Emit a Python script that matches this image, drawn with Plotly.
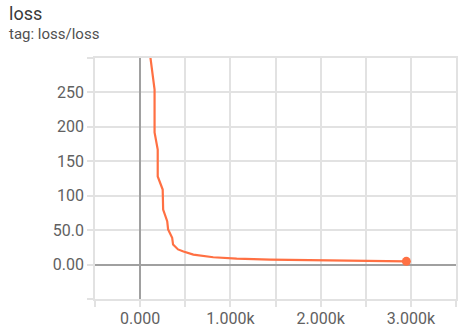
import plotly.graph_objects as go

# Data (step, loss)
steps = [95, 160, 160, 195, 195, 250, 255, 300, 310, 355, 365, 420, 480, 590, 810, 1070, 1440, 1660, 2280, 2950]
loss = [320, 254, 192, 167, 128, 109, 80, 63, 51, 39, 29, 22, 19, 14.5, 10.6, 8.7, 7.2, 6.8, 5.8, 4.7]

x_tickvals = [-500, 0, 500, 1000, 1500, 2000, 2500, 3000, 3500]
x_ticktext = ["", "0.000", "", "1.000k", "", "2.000k", "", "3.000k", ""]
y_tickvals = [-50, 0, 50, 100, 150, 200, 250, 300]
y_ticktext = ["", "0.00", "50.0", "100", "150", "200", "250", ""]

line_color = "#ff7043"
grid_color = "#e2e2e2"
zero_color = "#a0a0a0"
tick_font = dict(family="Roboto, sans-serif", size=16, color="#616161")

W, H = 458, 326
ML, MR, MT, MB = 95, 2, 58, 27
PW, PH = W - ML - MR, H - MT - MB

fig = go.Figure()
fig.add_trace(go.Scatter(x=steps, y=loss, mode="lines",
                         line=dict(color=line_color, width=2.2),
                         hoverinfo="skip", showlegend=False))
fig.add_trace(go.Scatter(x=[steps[-1]], y=[loss[-1]], mode="markers",
                         marker=dict(color=line_color, size=9),
                         hoverinfo="skip", showlegend=False))

fig.update_layout(
    width=W, height=H,
    margin=dict(l=ML, r=MR, t=MT, b=MB),
    paper_bgcolor="white", plot_bgcolor="white",
    font=dict(family="Roboto, sans-serif"),
    annotations=[
        dict(text="loss", xref="paper", yref="paper", x=-(ML - 7) / PW, y=1 + (MT - 1) / PH,
             xanchor="left", yanchor="top", showarrow=False,
             font=dict(family="Roboto, sans-serif", size=18, color="#3a3a3a")),
        dict(text="tag: loss/loss", xref="paper", yref="paper", x=-(ML - 7) / PW, y=1 + (MT - 23) / PH,
             xanchor="left", yanchor="top", showarrow=False,
             font=dict(family="Roboto, sans-serif", size=15, color="#505050")),
    ],
)
axis_common = dict(showgrid=True, gridcolor=grid_color, gridwidth=1.5,
                   zeroline=True, zerolinecolor=zero_color, zerolinewidth=2,
                   ticks="outside", ticklen=6, tickcolor=grid_color, tickwidth=1.5,
                   tickfont=tick_font, showline=True, mirror=True,
                   linecolor=grid_color, linewidth=1.5, automargin=False)
fig.update_xaxes(range=[-500, 3500], tickvals=x_tickvals, ticktext=x_ticktext,
                 ticklabelstandoff=-2, **axis_common)
fig.update_yaxes(range=[-50, 300], tickvals=y_tickvals, ticktext=y_ticktext, **axis_common)

fig.write_html("out.html", config={"displayModeBar": False},
               post_script="document.body.style.margin='0';")
